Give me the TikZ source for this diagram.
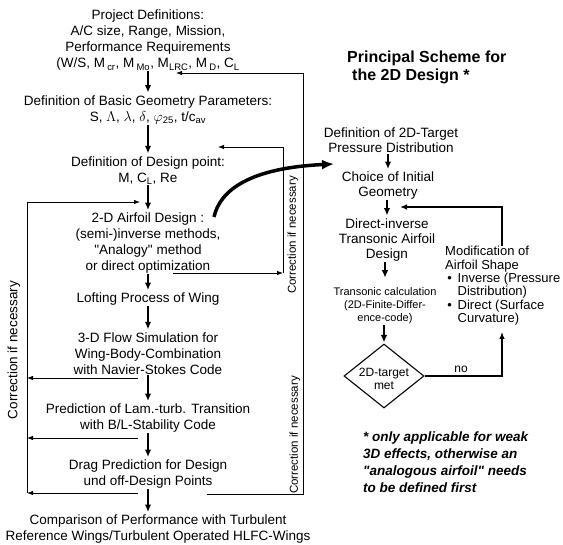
\documentclass[tikz,border=0pt]{standalone}
\usepackage{fontspec}
\setmainfont{Liberation Sans}
\usetikzlibrary{arrows.meta,shapes.geometric}
\begin{document}
\begin{tikzpicture}[x=1pt,y=-1pt,
  txt/.style={align=center,inner sep=0pt,font=\fontsize{13.5}{16}\selectfont},
  rtxt/.style={align=center,inner sep=0pt,font=\fontsize{13.5}{15}\selectfont},
  smalltxt/.style={align=center,inner sep=0pt,font=\fontsize{11}{13}\selectfont},
  corr/.style={inner sep=0pt,rotate=90,font=\fontsize{11.5}{13}\selectfont},
  mainarr/.style={line width=1.4pt,-{Latex[length=7.5pt,width=6.5pt]},shorten >=3pt,shorten <=0.5pt},
  conn/.style={line width=0.8pt},
  connarr/.style={conn,-{Latex[length=6pt,width=4.5pt]}},
  loopln/.style={line width=1.2pt},
  looparr/.style={loopln,-{Latex[length=7pt,width=5.5pt]}},
]
\useasboundingbox (0,0) rectangle (563,545);

% ---------------- main (left) column ----------------
\node[txt] (A) at (148,40.5) {Project Definitions:\\A/C size, Range, Mission,\\Performance Requirements\\(W/S, M\,\textsubscript{cr}, M\,\textsubscript{Mo}, M\textsubscript{LRC}, M\,\textsubscript{D}, C\textsubscript{L}};
\node[txt] (B) at (148,110) {Definition of Basic Geometry Parameters:\\S, $\Lambda$, $\lambda$, $\delta$, $\varphi$\textsubscript{25}, t/c\textsubscript{av}};
\node[txt] (C) at (148,170.5) {Definition of Design point:\\M, C\textsubscript{L}, Re};
\node[txt] (D) at (148,243.5) {2-D Airfoil Design :\\(semi-)inverse methods,\\\textquotedbl Analogy\textquotedbl{} method\\or direct optimization};
\node[txt] (E) at (148,299.5) {Lofting Process of Wing};
\node[txt] (F) at (148,353.5) {3-D Flow Simulation for\\Wing-Body-Combination\\with Navier-Stokes Code};
\node[txt] (G) at (148,418.5) {Prediction of Lam.-turb. Transition\\with B/L-Stability Code};
\node[txt] (H) at (148,474.5) {Drag Prediction for Design\\und off-Design Points};
\node[txt] (I) at (158,529.5) {Comparison of Performance with Turbulent\\Reference Wings/Turbulent Operated HLFC-Wings};

\draw[mainarr] (A.south) -- (B.north);
\draw[mainarr] (B.south) -- (C.north);
\draw[mainarr] (C.south) -- (D.north);
\draw[mainarr] (D.south) -- (E.north);
\draw[mainarr] (E.south) -- (F.north);
\draw[mainarr] (F.south) -- (G.north);
\draw[mainarr] (G.south) -- (H.north);
\draw[mainarr] (H.south) -- (H.south |- I.north);

% left correction loop
\coordinate (lvt) at (27,202);
\coordinate (lvb) at (27,493);
\coordinate (ctin) at (140,202);
\coordinate (fb1) at (138,378);
\coordinate (fb2) at (138,438);
\coordinate (fb3) at (138,493);
\draw[conn] (lvt) -- (lvb);
\draw[connarr] (lvt) -- (ctin);
\draw[connarr] (fb1) -- (fb1 -| lvt);
\draw[connarr] (fb2) -- (fb2 -| lvt);
\draw[connarr] (fb3) -- (fb3 -| lvt);
\node[corr,font=\fontsize{13.5}{16}\selectfont] (Lc) at (14,350) {Correction if necessary};

% inner right correction loop
\coordinate (ib) at (173,273);
\coordinate (ic) at (283,273);
\coordinate (it) at (283,147);
\coordinate (itip) at (218,147);
\draw[connarr] (ib) -- (ic);
\draw[connarr] (ic) -- (it) -- (itip);
\node[corr] (Rc1) at (293,235) {Correction if necessary};

% outer right correction loop
\coordinate (ob) at (207,494);
\coordinate (oc) at (303,73);
\coordinate (otip) at (176,73);
\draw[connarr] (ob) -| (oc) -- (otip);
\node[corr] (Rc2) at (295,435) {Correction if necessary};

% curved arrow to the 2D scheme
\coordinate (cs) at (214,217);
\coordinate (ce) at (334,164);
\draw[line width=3.5pt,-{Latex[length=12pt,width=10pt]}] (cs) .. controls (220,190) and (250,168) .. (ce);

% ---------------- right scheme ----------------
\node[font=\bfseries\fontsize{16}{18}\selectfont,align=left,inner sep=0pt,anchor=north west] (title) at (347,51) {Principal Scheme for\\\hspace{5pt}the 2D Design *};

\node[rtxt] (T) at (391,140.5) {Definition of 2D-Target\\Pressure Distribution};
\node[rtxt] (Ch) at (388,186) {Choice of Initial\\Geometry};
\node[rtxt] (DI) at (387,240) {Direct-inverse\\Transonic Airfoil\\Design};
\node[smalltxt] (TC) at (385,306) {Transonic calculation\\(2D-Finite-Differ-\\ence-code)};
\node[diamond,draw,line width=1.1pt,minimum width=80pt,minimum height=64pt,inner sep=0pt,shape aspect=1.25] (DM) at (384,376) {};
\node[font=\fontsize{12}{12.5}\selectfont,align=center,inner sep=0pt] (DMt) at (384,379) {2D-target\\met};

\draw[mainarr] (T.south -| Ch.north) -- (Ch.north);
\draw[mainarr] (Ch.south -| DI.north) -- (DI.north);
\draw[mainarr,shorten >=10pt] (DI.south -| TC.north) -- (TC.north);
\draw[mainarr,shorten >=1pt] (TC.south -| DM.north) -- (DM.north);

\node[font=\fontsize{13}{13.4}\selectfont,align=left,inner sep=0pt,anchor=north west] (M) at (445,246) {Modification of\\Airfoil Shape\\\,\textbullet\ \,Inverse (Pressure\\\phantom{\,\textbullet\ \,}Distribution)\\\,\textbullet\ \,Direct (Surface\\\phantom{\,\textbullet\ \,}Curvature)};

\coordinate (nb) at (502,332);
\coordinate (lb) at (400,207);
\draw[looparr] (DM.east) -| (nb);
\draw[looparr] (M.north -| nb) |- (lb);
\node[font=\fontsize{12}{13}\selectfont,inner sep=0pt] (no) at (461,369) {no};

\node[font=\bfseries\itshape\fontsize{13.5}{17}\selectfont,align=left,inner sep=0pt,anchor=north west] (fn) at (363,432) {* only applicable for weak\\3D effects, otherwise an\\\textquotedbl analogous airfoil\textquotedbl{} needs\\to be defined first};
\end{tikzpicture}
\end{document}
